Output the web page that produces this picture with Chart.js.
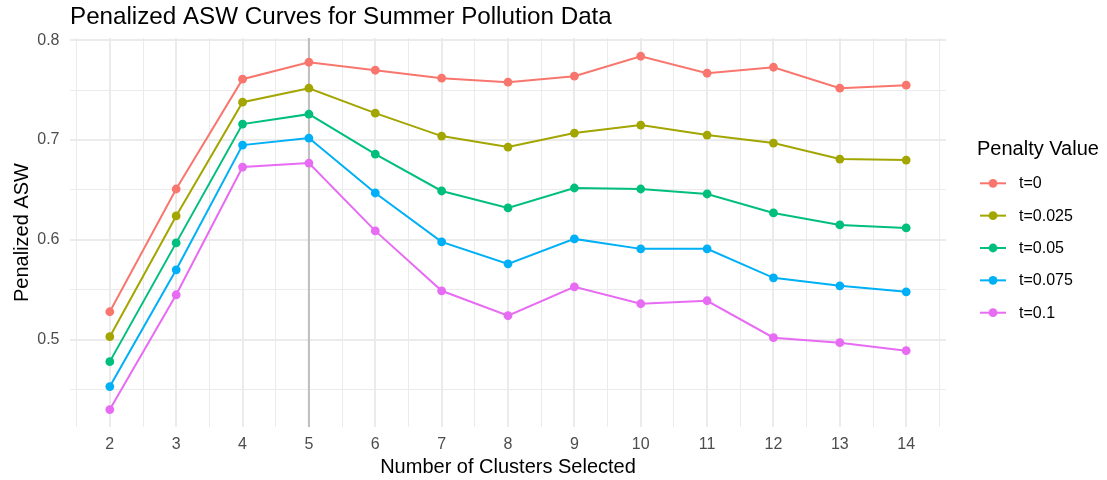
<!DOCTYPE html>
<html>
<head>
<meta charset="utf-8">
<script src="https://cdn.jsdelivr.net/npm/chart.js@4.4.1/dist/chart.umd.min.js"></script>
<style>
  html, body { margin: 0; padding: 0; background: #ffffff; }
  #wrap { width: 1107px; height: 480px; position: relative; }
</style>
</head>
<body>
<div id="wrap"><canvas id="aswChart" width="1107" height="480"></canvas></div>
<script>
// Number of clusters on the x axis
const clusters = [2, 3, 4, 5, 6, 7, 8, 9, 10, 11, 12, 13, 14];

// Penalised average silhouette width for each penalty value
const penaltyLabels = ['t=0', 't=0.025', 't=0.05', 't=0.075', 't=0.1'];
const aswT0     = [0.528, 0.651, 0.761, 0.778, 0.770, 0.762, 0.758, 0.764, 0.784, 0.767, 0.773, 0.752, 0.755];
const aswT0025  = [0.503, 0.624, 0.738, 0.752, 0.727, 0.704, 0.693, 0.707, 0.715, 0.705, 0.697, 0.681, 0.680];
const aswT005   = [0.478, 0.597, 0.716, 0.726, 0.686, 0.649, 0.632, 0.652, 0.651, 0.646, 0.627, 0.615, 0.612];
const aswT0075  = [0.453, 0.570, 0.695, 0.702, 0.647, 0.598, 0.576, 0.601, 0.591, 0.591, 0.562, 0.554, 0.548];
const aswT01    = [0.430, 0.545, 0.673, 0.677, 0.609, 0.549, 0.524, 0.553, 0.536, 0.539, 0.502, 0.497, 0.489];
const seriesValues = [aswT0, aswT0025, aswT005, aswT0075, aswT01];
const seriesColors = ['#F8766D', '#A3A500', '#00BF7D', '#00B0F6', '#E76BF3'];

// Grid positions (major and minor) and the highlighted cluster count
const xGrid = [1.5, 2, 2.5, 3, 3.5, 4, 4.5, 5, 5.5, 6, 6.5, 7, 7.5, 8, 8.5, 9, 9.5, 10, 10.5, 11, 11.5, 12, 12.5, 13, 13.5, 14, 14.5];
const yGrid = [0.45, 0.5, 0.55, 0.6, 0.65, 0.7, 0.75, 0.8];
const selectedK = 5;

const FONT = "'Liberation Sans', Arial, Helvetica, sans-serif";
Chart.defaults.font.family = FONT;

const datasets = seriesValues.map((vals, i) => ({
  label: penaltyLabels[i],
  data: clusters.map((k, j) => ({ x: k, y: vals[j] })),
  borderColor: seriesColors[i],
  backgroundColor: seriesColors[i],
  pointBackgroundColor: seriesColors[i],
  pointBorderWidth: 0,
  pointRadius: 4.4,
  borderWidth: 2,
  tension: 0,
  order: seriesValues.length - i
}));

const isMajorX = v => Math.abs(v - Math.round(v)) < 1e-9;
const isMajorY = v => Math.abs(v * 10 - Math.round(v * 10)) < 1e-9;

// Reference line at the chosen cluster count, title and key
const decorations = {
  id: 'decorations',
  beforeDatasetsDraw(chart) {
    const { ctx, chartArea, scales } = chart;
    const px = scales.x.getPixelForValue(selectedK);
    ctx.save();
    ctx.strokeStyle = '#BEBEBE';
    ctx.lineWidth = 2;
    ctx.beginPath();
    ctx.moveTo(px, chartArea.top);
    ctx.lineTo(px, chartArea.bottom);
    ctx.stroke();
    ctx.restore();
  },
  afterDraw(chart) {
    const { ctx } = chart;
    ctx.save();
    // plot title
    ctx.fillStyle = '#000000';
    ctx.font = `24.2px ${FONT}`;
    ctx.textAlign = 'left';
    ctx.textBaseline = 'alphabetic';
    ctx.fillText('Penalized ASW Curves for Summer Pollution Data', 70, 23.5);

    // legend
    ctx.font = `20px ${FONT}`;
    ctx.fillText('Penalty Value', 977, 155);
    ctx.font = `16px ${FONT}`;
    ctx.textBaseline = 'middle';
    chart.data.datasets.forEach((ds, i) => {
      const y = 183.3 + i * 32.35;
      ctx.strokeStyle = ds.borderColor;
      ctx.lineWidth = 2;
      ctx.beginPath();
      ctx.moveTo(980, y);
      ctx.lineTo(1006, y);
      ctx.stroke();
      ctx.fillStyle = ds.borderColor;
      ctx.beginPath();
      ctx.arc(993, y, 4.4, 0, Math.PI * 2);
      ctx.fill();
      ctx.fillStyle = '#000000';
      ctx.fillText(ds.label, 1019, y + 0.5);
    });
    ctx.restore();
  }
};

new Chart(document.getElementById('aswChart'), {
  type: 'line',
  data: { datasets },
  options: {
    responsive: false,
    devicePixelRatio: 1,
    animation: false,
    layout: { padding: { top: 38, right: 161, bottom: 0, left: 0 } },
    plugins: {
      legend: { display: false },
      tooltip: { enabled: false },
      title: { display: false }
    },
    scales: {
      x: {
        type: 'linear',
        min: 1.4,
        max: 14.6,
        afterBuildTicks: s => { s.ticks = xGrid.map(v => ({ value: v })); },
        afterFit: s => { s.height = 53; },
        border: { display: false },
        grid: {
          color: '#EBEBEB',
          lineWidth: c => (c.tick && isMajorX(c.tick.value)) ? 2 : 1,
          drawTicks: false
        },
        ticks: {
          autoSkip: false,
          maxRotation: 0,
          padding: 8.4,
          color: '#4D4D4D',
          font: { size: 16 },
          callback: v => isMajorX(v) ? String(Math.round(v)) : ''
        },
        title: {
          display: true,
          text: 'Number of Clusters Selected',
          color: '#000000',
          font: { size: 20, lineHeight: 1 },
          padding: { top: 0, bottom: 2.5 }
        }
      },
      y: {
        type: 'linear',
        min: 0.4125,
        max: 0.8023,
        afterBuildTicks: s => { s.ticks = yGrid.map(v => ({ value: v })); },
        afterFit: s => { s.width = 70; },
        border: { display: false },
        grid: {
          color: '#EBEBEB',
          lineWidth: c => (c.tick && isMajorY(c.tick.value)) ? 2 : 1,
          drawTicks: false
        },
        ticks: {
          autoSkip: false,
          padding: 10.5,
          color: '#4D4D4D',
          font: { size: 16 },
          callback: v => isMajorY(v) ? v.toFixed(1) : ''
        },
        title: {
          display: true,
          text: 'Penalized ASW',
          color: '#000000',
          font: { size: 20, lineHeight: 1 },
          padding: { top: 12, bottom: 0 }
        }
      }
    }
  },
  plugins: [decorations]
});
</script>
</body>
</html>
